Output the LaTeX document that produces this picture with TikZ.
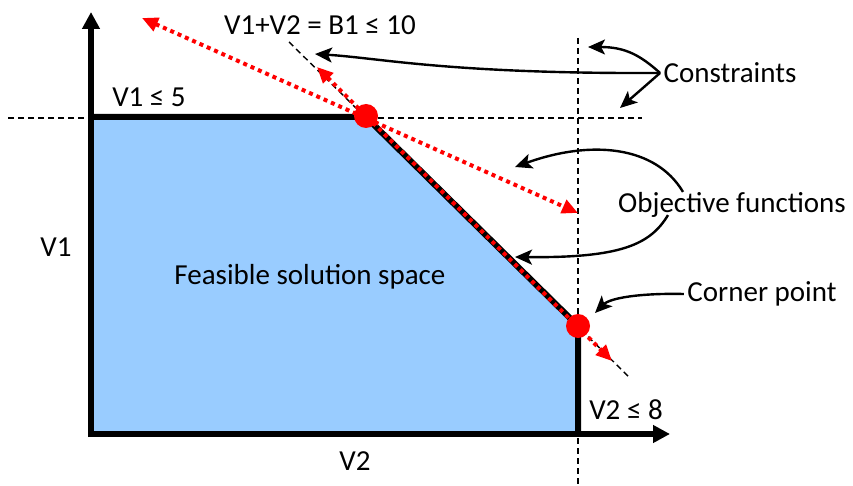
\documentclass[tikz,border=0pt]{standalone}
\usepackage{fontspec}
\setmainfont{Carlito}
\usetikzlibrary{arrows.meta,positioning,calc}
\definecolor{feasblue}{HTML}{99CCFF}
\tikzset{
  axis/.style={line width=5.5pt,-{Triangle[length=17pt,width=17pt]}},
  bound/.style={line width=6pt,line join=miter},
  cons/.style={line width=1.4pt,dash pattern=on 6pt off 4pt},
  obj/.style={red,line width=4pt,dash pattern=on 4pt off 4pt,
              {Triangle[length=16pt,width=14pt]}-{Triangle[length=16pt,width=14pt]}},
  corner/.style={circle,fill=red,inner sep=0pt,minimum size=24pt},
  lbl/.style={font=\fontsize{29}{33}\selectfont},
  note/.style={-{Stealth[length=17pt,width=15pt,inset=4pt]},line width=2.4pt},
}

\begin{document}
\begin{tikzpicture}[x=1pt,y=-1pt]
  \useasboundingbox (0,0) rectangle (853,486);

  % feasible region
  \fill[feasblue] (91,434) -- (91,117) -- (366,117) -- (578,326) -- (578,434) -- cycle;

  % constraint lines
  \draw[cons] (8,118) -- (642,118);
  \draw[cons] (578,38) -- (578,486);
  \draw[cons] (289,42) -- (630,378);

  % boundary and axes
  \draw[bound] (91,117) -- (366,117) -- (578,326) -- (578,434);
  \draw[axis] (91,437) -- (91,12);
  \draw[axis] (88,434) -- (670,434);

  % objective functions
  \draw[obj] (142,18) -- (578,213);
  \draw[obj] (317,67) -- (612,361);

  \node[corner] (c1) at (366,116) {};
  \node[corner] (c2) at (578,326) {};

  % labels
  \node[lbl] (v1max)  at (149,97)  {V1 ≤ 5};
  \node[lbl] (v1)     at (56,247)  {V1};
  \node[lbl] (v2)     at (355,461) {V2};
  \node[lbl] (feas)   at (310,277) {Feasible solution space};
  \node[lbl] (budget) at (320,25)  {V1+V2 = B1 ≤ 10};
  \node[lbl] (v2max)  at (626,410) {V2 ≤ 8};
  \node[lbl] (cons)   at (730,73)  {Constraints};
  \node[lbl] (objf)   at (732,205) {Objective functions};
  \node[lbl] (cpt)    at (762,294) {Corner point};

  % annotations
  \draw[note] (cons.west) .. controls (640,55) and (625,47) .. (588,47);
  \draw[note] (cons.west) -- (620,108);
  \draw[note] (cons.west) .. controls (450,74) and (380,58) .. (315,54);
  \draw[note] ([xshift=-49pt,yshift=-3pt]objf.north) .. controls (655,145) and (590,140) .. (515,167);
  \draw[note] ([xshift=-64pt,yshift=6pt]objf.south) .. controls (650,245) and (620,258) .. (515,257);
  \draw[note] (cpt.west) .. controls (640,293) and (610,298) .. (595,313);
\end{tikzpicture}
\end{document}
